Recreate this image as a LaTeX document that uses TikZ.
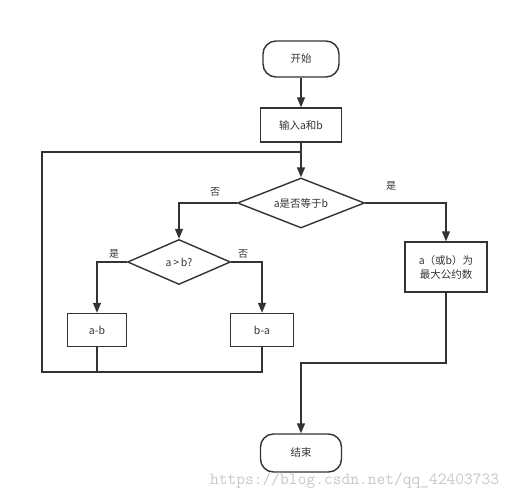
\documentclass[tikz,border=0pt]{standalone}
\usepackage{fontspec}
\setmainfont{Noto Sans CJK SC}
\usetikzlibrary{shapes.geometric,arrows.meta}
\definecolor{ln}{HTML}{333333}
\begin{document}
\begin{tikzpicture}[x=1pt,y=-1pt,
  every node/.style={font=\fontsize{10.5}{14}\selectfont, text=ln},
  term/.style={draw=ln, line width=1.4pt, rectangle, rounded corners=13pt, minimum width=76pt, minimum height=36pt, inner sep=0pt},
  proc/.style={draw=ln, line width=1.4pt, rectangle, inner sep=0pt},
  dec/.style={draw=ln, line width=1.4pt, diamond, aspect=2.5, inner sep=0pt},
  conn/.style={draw=ln, line width=1.4pt},
  arr/.style={conn, -{Triangle[length=10pt,width=8pt]}},
  lbl/.style={font=\fontsize{10}{12}\selectfont}]
\useasboundingbox (0,0) rectangle (515,500);
\node[term] (start) at (301,59) {开始};
\node[proc, minimum width=81pt, minimum height=34pt] (input) at (301,125) {输入a和b};
\node[dec, minimum width=127pt, minimum height=50pt] (d1) at (301,203) {a是否等于b};
\node[dec, minimum width=103pt, minimum height=45pt] (d2) at (179,262) {a\,>\,b?};
\node[proc, minimum width=59pt, minimum height=33pt] (amb) at (97,330) {a-b};
\node[proc, minimum width=63pt, minimum height=33pt] (bma) at (262,330) {b-a};
\node[proc, minimum width=82pt, minimum height=50pt, align=center] (res) at (446,267) {a（或b）为\\最大公约数};
\node[term, minimum width=81pt, minimum height=38pt] (end) at (301,453) {结束};
\coordinate (bl) at (42,372);
\coordinate (j) at (301,152);
\coordinate (m) at (301,363);
\draw[arr] (start) -- (input);
\draw[arr] (input) -- (d1);
\draw[conn] (bma.south) |- (bl) |- (j);
\draw[conn] (amb.south) -- (amb.south |- bl);
\draw[arr] (d1.west) -| (d2.north);
\draw[arr] (d1.east) -| (res.north);
\draw[arr] (d2.west) -| (amb.north);
\draw[arr] (d2.east) -| (bma.north);
\draw[arr] (res.south) |- (m) -- (end.north);
\node[lbl] (l1) at (215,192) {否};
\node[lbl] (l2) at (391,186) {是};
\node[lbl] (l3) at (114,254) {是};
\node[lbl] (l4) at (243,254) {否};
\node[anchor=west, inner sep=0pt, text=black!22, font=\ttfamily\fontsize{17}{17}\selectfont] (wm) at (210,481) {https://blog.csdn.net/qq\_42403733};
\end{tikzpicture}
\end{document}
